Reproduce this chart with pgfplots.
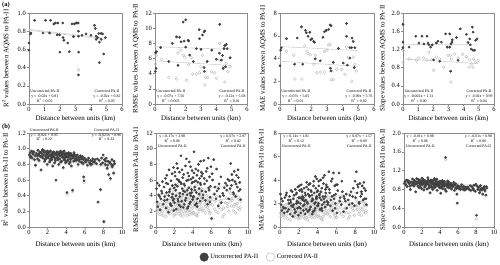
\documentclass[border=0pt]{standalone}
\usepackage{fontspec}
\setmainfont{Liberation Serif}
\usepackage{pgfplots}
\pgfplotsset{compat=1.18}
\usepackage{pgfplotstable}

\definecolor{darkpt}{HTML}{404040}
\definecolor{lightpt}{HTML}{BDBDBD}
\definecolor{trend}{HTML}{CFCFCF}
\definecolor{axgray}{HTML}{8C8C8C}

% ---------- Row (a) data ----------
\pgfplotstableread{
x y
0.00 0.67
0.00 0.59
0.10 0.77
0.12 0.78
0.36 0.92
0.90 0.78
1.07 0.92
1.33 0.78
1.39 0.92
1.60 0.88
1.70 0.89
1.86 0.89
1.82 0.76
1.97 0.76
1.99 0.57
2.18 0.89
2.20 0.73
2.25 0.70
2.50 0.67
2.60 0.575
2.78 0.88
2.93 0.88
2.87 0.74
3.04 0.89
3.10 0.89
3.17 0.89
3.19 0.80
3.20 0.745
3.20 0.57
3.19 0.32
3.42 0.755
3.68 0.77
4.00 0.755
4.22 0.865
4.28 0.83
4.33 0.745
4.33 0.71
4.43 0.73
4.50 0.775
4.54 0.455
4.65 0.775
4.65 0.71
4.54 0.68
4.75 0.77
4.82 0.55
4.93 0.73
}\aOneU
\pgfplotstableread{
x y
3.19 0.375
}\aOneC

\pgfplotstableread{
x y
0.04 6.75
0.10 6.90
0.07 4.70
0.02 4.30
0.37 7.45
0.90 5.60
1.13 8.00
1.40 8.85
1.50 5.10
1.60 8.80
1.70 8.20
1.84 10.8
2.00 11.1
1.90 8.30
2.00 7.50
2.16 8.40
2.20 8.30
2.26 6.45
2.50 5.60
2.70 7.30
2.88 9.80
2.90 8.60
3.10 9.10
3.20 9.50
3.25 9.65
3.00 7.20
3.20 4.80
3.22 4.30
3.40 5.60
3.70 7.10
4.00 5.90
4.22 10.5
4.20 6.70
4.33 5.80
4.50 7.30
4.55 7.70
4.65 7.85
4.70 7.30
4.60 4.90
4.90 6.10
4.45 4.70
4.40 6.40
}\aTwoU
\pgfplotstableread{
x y
0.07 6.40
0.43 5.90
0.90 3.50
1.40 3.30
1.50 6.70
1.70 7.10
1.84 6.45
1.95 6.10
2.20 5.20
2.35 6.10
2.46 3.95
2.70 3.95
2.90 4.10
3.00 4.90
3.10 6.45
3.25 2.50
3.30 3.50
3.45 3.50
3.70 4.25
3.90 4.10
4.22 8.00
4.20 5.80
4.45 4.90
4.55 2.90
4.65 5.35
4.75 4.25
4.90 4.90
4.00 3.40
2.05 3.15
0.02 5.30
}\aTwoC

\pgfplotstableread{
x y
0.04 4.73
0.08 4.95
0.00 3.36
0.42 5.74
0.93 3.50
1.10 5.80
1.37 6.78
1.45 3.50
1.62 6.47
1.68 6.26
1.79 5.95
1.90 6.30
1.96 5.65
2.04 5.74
2.15 5.50
2.20 5.43
2.25 3.97
2.57 3.80
2.74 5.86
2.84 6.35
2.95 6.47
3.10 6.56
3.20 6.96
3.26 6.87
3.22 3.15
3.26 2.90
3.40 3.66
3.73 4.88
4.04 3.60
4.25 7.08
4.25 5.95
4.30 3.42
4.46 4.95
4.57 4.95
4.60 5.80
4.67 5.50
4.78 4.95
4.74 3.20
4.46 4.03
}\aThreeU
\pgfplotstableread{
x y
0.00 4.10
0.40 4.64
0.88 4.27
0.95 2.20
1.40 2.20
1.58 5.10
1.72 4.64
1.79 4.43
1.94 4.33
2.15 3.50
2.25 4.27
2.36 2.75
2.57 2.80
2.84 2.80
2.84 4.60
3.00 4.73
3.10 5.20
3.20 5.20
3.26 2.14
3.40 2.14
3.62 3.05
3.94 3.05
4.15 2.60
4.25 5.00
4.36 4.12
4.57 2.00
4.67 4.12
4.78 3.50
4.88 2.90
}\aThreeC

\pgfplotstableread{
x y
0.00 1.75
0.00 1.36
0.00 1.24
0.40 1.25
0.84 1.49
1.05 1.34
1.25 1.49
1.38 1.32
1.58 1.49
1.65 1.34
1.71 1.30
1.82 1.25
1.93 1.30
2.02 0.97
2.20 1.34
2.30 1.38
2.42 0.94
2.53 1.36
2.81 1.54
2.92 1.25
3.08 1.25
3.08 1.54
3.16 1.32
3.23 1.36
3.25 1.41
3.14 0.72
3.52 1.46
3.63 0.96
3.78 1.65
4.18 1.53
4.29 1.35
4.40 1.43
4.44 1.30
4.50 1.21
4.57 1.69
4.62 1.58
4.62 1.18
4.73 1.18
4.79 1.40
4.88 1.43
}\aFourU
\pgfplotstableread{
x y
0.00 1.18
0.00 0.92
0.40 0.99
0.88 0.96
1.05 1.01
1.36 1.01
1.58 0.97
1.71 1.14
1.87 0.97
2.02 0.74
2.20 1.03
2.42 0.99
2.68 0.81
2.97 1.07
3.12 1.07
3.19 0.99
3.16 0.48
3.40 1.10
3.63 1.01
3.92 1.09
4.18 1.04
4.35 0.81
4.50 0.88
4.62 0.81
4.66 0.99
4.79 0.92
4.95 0.96
4.40 0.97
}\aFourC

% ---------- Row (b) data ----------
\pgfplotstableread{
x r2u r2c rmu rmc mau mac slu slc
0.05 0.92 0.91 4.9 2.1 2.8 1.2 0.93 0.92
0.12 0.95 0.94 3.2 1.8 1.9 0.9 0.97 0.96
0.20 0.90 0.90 2.6 2.4 1.4 1.3 0.90 0.89
0.28 0.97 0.96 4.1 3.0 2.2 1.7 1.00 0.99
0.35 0.88 0.87 5.3 2.2 1.7 1.1 0.86 0.86
0.45 0.93 0.92 2.2 1.6 1.2 0.8 0.95 0.95
0.52 0.96 0.96 3.6 2.8 2.5 1.6 0.98 0.97
0.60 0.86 0.85 4.6 3.4 1.6 1.9 0.92 0.91
0.70 0.79 0.78 5.8 2.0 2.9 1.0 0.80 0.79
0.78 0.94 0.93 2.9 1.5 1.3 0.7 0.96 0.95
0.88 0.91 0.90 5.1 3.7 2.3 2.0 0.89 0.89
0.95 0.98 0.97 3.9 2.5 2.0 1.4 1.02 1.01
1.02 0.93 0.92 6.2 4.1 2.6 2.2 0.94 0.93
1.08 0.85 0.84 2.4 1.3 1.1 0.6 0.88 0.87
1.15 0.96 0.95 4.4 2.7 2.1 1.5 0.99 0.98
1.22 0.90 0.89 3.5 2.0 1.8 1.0 0.91 0.90
1.30 0.73 0.72 5.5 3.2 3.0 1.8 0.75 0.74
1.35 0.94 0.93 1.9 2.4 0.9 1.2 0.96 0.95
1.42 0.97 0.97 7.3 4.4 2.4 2.6 1.03 1.02
1.50 0.88 0.88 4.8 1.7 2.7 0.9 0.93 0.92
1.55 0.92 0.91 3.0 3.6 1.5 1.9 0.87 0.86
1.62 0.95 0.94 5.9 2.9 3.2 1.6 0.97 0.96
1.68 0.84 0.83 2.7 1.9 1.3 0.8 0.84 0.83
1.75 0.91 0.90 6.8 3.9 2.0 2.1 1.00 0.99
1.80 0.96 0.96 4.2 2.3 2.2 1.3 0.95 0.95
1.86 0.89 0.88 3.4 4.6 1.6 2.4 0.90 0.89
1.90 0.93 0.92 7.6 3.1 3.4 1.7 0.98 0.97
1.95 0.80 0.79 2.1 1.4 1.0 0.7 0.82 0.81
1.98 0.97 0.96 5.0 2.6 2.5 1.4 1.04 1.03
1.72 0.86 0.86 3.8 5.0 2.8 1.1 0.92 0.91
1.45 0.99 0.98 4.5 2.1 1.9 1.0 0.95 0.94
1.12 0.91 0.90 5.6 3.3 2.3 2.0 0.88 0.87
2.02 0.94 0.93 3.1 1.6 1.7 0.8 0.97 0.96
2.08 0.88 0.87 6.5 4.0 3.1 2.3 0.91 0.90
2.15 0.95 0.95 4.7 2.9 2.0 1.5 1.01 1.00
2.20 0.83 0.82 2.3 2.2 1.2 1.1 0.79 0.78
2.26 0.92 0.91 8.1 3.5 3.6 1.9 0.94 0.93
2.32 0.97 0.96 5.2 5.4 2.4 2.7 0.99 0.98
2.38 0.90 0.89 3.6 2.0 2.6 1.0 0.87 0.87
2.45 0.86 0.85 6.0 3.1 1.8 1.6 0.92 0.91
2.50 0.94 0.93 2.8 1.7 1.4 0.9 0.96 0.95
2.55 0.78 0.77 7.0 4.3 3.3 2.4 0.81 0.80
2.60 0.91 0.91 4.3 2.4 2.2 1.2 0.93 0.92
2.66 0.96 0.95 5.7 2.7 2.9 1.5 1.05 1.04
2.72 0.89 0.88 9.1 3.8 2.7 2.0 0.90 0.89
2.78 0.93 0.93 3.3 1.9 1.5 0.8 0.97 0.96
2.84 0.85 0.84 4.9 3.2 3.8 1.7 0.85 0.84
2.90 0.60 0.59 6.3 2.3 2.1 1.3 0.73 0.72
2.95 0.95 0.94 2.5 1.4 1.3 0.6 0.99 0.98
2.12 0.91 0.90 5.4 4.7 2.5 2.5 0.94 0.93
2.35 0.87 0.87 7.5 2.8 3.0 1.4 0.89 0.88
2.58 0.95 0.95 3.9 2.2 1.9 1.2 0.96 0.96
2.75 0.82 0.81 5.5 3.6 2.3 1.9 0.83 0.82
2.98 0.92 0.91 4.6 2.6 2.8 1.6 0.95 0.94
3.02 0.96 0.95 6.7 3.4 3.2 1.8 1.00 0.99
3.08 0.89 0.88 2.9 1.8 1.4 0.9 0.91 0.90
3.15 0.93 0.92 4.5 4.9 2.6 2.6 0.97 0.96
3.20 0.80 0.79 7.8 2.5 3.7 1.3 0.80 0.79
3.26 0.94 0.94 3.7 2.1 1.7 1.1 0.94 0.93
3.32 0.87 0.86 5.9 3.3 3.0 1.8 0.88 0.87
3.38 0.97 0.96 4.1 1.5 2.2 0.8 1.03 1.02
3.45 0.91 0.90 6.9 4.2 2.4 2.2 0.92 0.91
3.50 0.84 0.83 2.6 2.8 1.3 1.5 0.86 0.85
3.56 0.95 0.94 5.0 2.2 3.5 1.2 0.98 0.97
3.62 0.90 0.89 8.3 3.7 2.9 2.0 0.90 0.89
3.68 0.76 0.75 4.3 1.9 2.0 1.0 0.78 0.77
3.74 0.93 0.92 3.2 5.1 1.6 2.8 0.95 0.94
3.80 0.88 0.87 6.1 2.6 3.3 1.4 0.93 0.92
3.86 0.94 0.93 4.8 3.0 2.5 1.6 0.89 0.88
3.92 0.82 0.81 7.2 4.5 4.1 2.4 0.84 0.83
3.97 0.92 0.91 3.5 1.7 1.8 0.9 0.97 0.96
3.12 0.86 0.85 5.3 3.9 2.7 2.1 0.83 0.82
3.42 0.95 0.94 2.4 2.3 1.1 1.2 1.01 1.00
3.58 0.89 0.89 6.5 2.9 3.9 1.5 0.91 0.90
3.78 0.97 0.96 4.0 2.0 2.1 1.1 0.96 0.95
3.90 0.85 0.84 5.6 3.4 2.6 1.8 0.87 0.86
4.02 0.90 0.89 6.3 3.6 3.1 1.9 0.92 0.91
4.08 0.44 0.42 3.9 1.9 2.0 1.0 0.72 0.71
4.14 0.93 0.92 9.6 4.8 3.5 2.6 0.95 0.94
4.20 0.86 0.85 5.1 2.7 2.8 1.4 0.88 0.87
4.26 0.95 0.94 2.8 1.6 1.5 0.8 0.99 0.98
4.32 0.81 0.80 7.4 3.3 4.0 1.7 0.82 0.81
4.38 0.91 0.90 4.4 5.3 2.3 2.9 0.93 0.92
4.45 0.88 0.87 6.6 2.4 3.3 1.3 0.89 0.88
4.50 0.94 0.93 3.6 3.1 1.9 1.6 0.97 0.96
4.56 0.78 0.77 5.7 1.8 2.6 0.9 0.80 0.79
4.62 0.92 0.91 8.0 4.1 3.7 2.2 1.48 1.43
4.68 0.47 0.45 4.9 2.9 2.4 1.5 0.76 0.75
4.74 0.90 0.89 6.2 3.8 4.4 2.0 0.91 0.90
4.80 0.84 0.83 3.3 2.2 1.7 1.2 0.85 0.84
4.86 0.93 0.92 5.4 3.5 2.9 1.8 0.94 0.93
4.92 0.87 0.86 7.0 2.6 3.6 1.4 0.88 0.87
4.98 0.91 0.90 4.6 4.4 2.2 2.4 0.96 0.95
4.17 0.89 0.88 5.8 3.0 2.7 1.6 0.86 0.85
4.42 0.83 0.82 3.0 1.5 1.6 0.7 0.90 0.89
4.84 0.95 0.94 8.4 3.9 3.2 2.1 0.98 0.97
5.05 0.88 0.87 6.8 3.4 3.4 1.9 0.89 0.88
5.12 0.85 0.84 4.1 2.3 2.1 1.2 0.84 0.83
5.20 0.92 0.91 8.5 4.6 4.7 2.5 0.93 0.92
5.28 0.80 0.79 5.5 2.9 2.9 1.5 0.81 0.80
5.36 0.89 0.88 3.4 1.8 1.8 0.9 0.90 0.89
5.45 0.86 0.85 7.1 3.2 3.9 1.7 0.87 0.86
5.52 0.91 0.90 5.9 4.0 2.6 2.2 0.95 0.94
5.60 0.83 0.82 2.9 2.5 1.4 1.3 0.78 0.77
5.68 0.87 0.86 8.8 3.6 4.6 2.0 0.89 0.88
5.75 0.90 0.89 4.7 2.1 2.4 1.1 0.92 0.91
5.82 0.81 0.80 6.4 4.7 3.5 2.6 0.82 0.81
5.88 0.64 0.63 3.8 1.9 2.0 1.0 0.70 0.69
5.92 0.59 0.57 5.2 3.0 2.8 1.6 0.51 0.50
5.97 0.88 0.87 7.7 3.5 3.6 1.9 0.88 0.87
6.05 0.84 0.83 1.1 1.0 1.2 0.8 0.84 0.83
6.15 0.86 0.85 6.0 2.8 3.1 1.5 0.86 0.85
6.28 0.79 0.78 8.6 4.2 4.6 2.3 0.80 0.79
6.40 0.88 0.87 5.1 3.3 2.5 1.7 0.90 0.89
6.52 0.82 0.81 3.6 2.0 1.9 1.1 0.83 0.82
6.63 0.85 0.84 4.6 5.0 3.0 2.6 0.87 0.86
6.75 0.80 0.79 2.7 1.8 1.3 0.9 0.79 0.78
6.86 0.87 0.86 5.5 2.5 2.4 1.3 0.85 0.84
6.95 0.83 0.82 3.9 3.0 2.2 1.6 0.81 0.80
7.10 0.86 0.85 3.1 2.2 1.6 1.2 0.84 0.83
7.25 0.81 0.80 4.3 1.3 2.3 0.7 0.80 0.79
7.42 0.32 0.31 5.0 1.6 2.7 0.9 0.78 0.77
7.55 0.85 0.84 5.6 3.1 3.0 1.7 0.86 0.85
7.68 0.48 0.47 4.7 3.7 2.0 2.0 0.82 0.81
7.80 0.88 0.87 6.1 2.6 3.3 1.4 0.89 0.88
7.92 0.82 0.81 3.6 2.0 1.8 1.0 0.76 0.75
7.98 0.92 0.90 5.9 4.6 3.9 2.5 0.91 0.90
8.05 0.07 0.06 4.9 3.2 2.5 1.8 0.25 0.17
8.12 0.86 0.85 8.1 4.3 4.7 2.3 0.87 0.86
8.20 0.80 0.79 5.3 2.7 2.9 1.5 0.80 0.79
8.30 0.88 0.87 6.0 3.4 3.4 1.8 0.85 0.84
8.40 0.75 0.74 4.4 2.1 2.1 1.1 0.73 0.72
8.50 0.84 0.83 7.1 3.9 3.7 2.1 0.88 0.87
8.58 0.67 0.66 5.8 2.9 2.6 1.6 0.82 0.81
8.66 0.82 0.81 3.9 1.8 3.0 1.0 0.79 0.78
8.75 0.62 0.61 6.6 4.0 3.5 2.2 0.70 0.69
8.84 0.80 0.79 5.1 3.0 2.3 1.7 0.84 0.83
8.92 0.86 0.85 7.3 2.4 3.8 1.3 0.86 0.85
9.00 0.79 0.78 4.6 3.5 2.4 1.9 0.77 0.76
9.10 0.69 0.68 5.7 2.2 3.1 1.2 0.68 0.67
9.20 0.81 0.80 3.5 3.3 1.9 1.8 0.83 0.82
0.15 0.89 0.88 5.6 2.7 2.4 1.5 0.91 0.90
0.40 0.94 0.93 3.9 1.9 1.6 1.0 0.99 0.98
0.65 0.91 0.90 4.3 2.6 2.7 1.3 0.87 0.86
0.92 0.87 0.86 3.4 3.1 1.5 1.7 0.94 0.93
1.18 0.95 0.94 6.6 2.5 3.1 1.4 0.97 0.96
1.38 0.90 0.89 4.0 1.8 1.7 0.9 0.92 0.91
1.58 0.98 0.97 2.8 2.9 1.2 1.6 1.01 1.00
1.78 0.87 0.86 5.3 3.4 2.9 1.9 0.86 0.85
1.92 0.94 0.93 3.6 2.2 2.1 1.1 0.93 0.92
2.05 0.90 0.89 7.0 3.7 3.5 2.1 0.90 0.89
2.18 0.96 0.95 4.0 1.7 1.6 0.8 0.98 0.97
2.28 0.85 0.84 6.1 4.1 3.2 2.3 0.85 0.84
2.42 0.93 0.92 3.3 2.5 2.3 1.4 0.95 0.94
2.52 0.89 0.88 5.8 3.0 2.5 1.7 0.91 0.90
2.68 0.94 0.93 2.6 1.5 1.1 0.7 1.00 0.99
2.82 0.87 0.86 7.3 4.0 3.4 2.2 0.88 0.87
2.92 0.92 0.91 4.2 2.8 2.0 1.5 0.94 0.93
3.05 0.88 0.87 5.5 2.3 3.6 1.2 0.86 0.85
3.18 0.95 0.94 3.4 3.5 1.5 1.9 0.99 0.98
3.30 0.91 0.90 8.7 4.3 3.1 2.4 0.92 0.91
3.40 0.83 0.82 4.7 2.0 2.7 1.1 0.84 0.83
3.52 0.93 0.92 6.0 3.6 2.3 1.9 0.96 0.95
3.65 0.96 0.95 3.0 1.6 1.4 0.8 1.02 1.01
3.76 0.86 0.85 7.7 3.2 4.3 1.8 0.88 0.87
3.88 0.91 0.90 4.4 4.0 2.4 2.2 0.91 0.90
3.95 0.89 0.88 5.7 2.4 3.0 1.3 0.90 0.89
4.05 0.94 0.93 3.8 1.8 1.8 0.9 0.97 0.96
4.12 0.84 0.83 6.9 3.9 3.9 2.1 0.83 0.82
4.24 0.90 0.89 4.7 2.9 2.5 1.5 0.91 0.90
4.35 0.93 0.92 5.9 3.6 3.0 1.9 0.95 0.94
4.48 0.86 0.85 2.6 1.4 1.4 0.6 0.87 0.86
4.58 0.91 0.90 7.2 4.5 4.2 2.4 0.92 0.91
4.70 0.88 0.87 4.2 2.2 2.1 1.1 0.89 0.88
4.82 0.92 0.91 5.6 3.1 2.6 1.7 0.93 0.92
4.95 0.85 0.84 6.5 4.9 3.4 2.7 0.84 0.83
5.08 0.90 0.89 3.7 2.1 1.9 1.1 0.91 0.90
5.24 0.87 0.86 6.2 3.8 3.2 2.0 0.88 0.87
5.40 0.84 0.83 4.5 2.6 2.3 1.4 0.86 0.85
5.56 0.89 0.88 7.5 3.4 4.1 1.8 0.90 0.89
5.72 0.82 0.81 5.0 2.8 2.7 1.5 0.83 0.82
5.85 0.86 0.85 3.2 1.7 1.6 0.8 0.85 0.84
6.10 0.83 0.82 6.8 3.7 3.6 2.0 0.82 0.81
6.35 0.85 0.84 4.2 2.3 2.2 1.2 0.86 0.85
6.58 0.80 0.79 7.4 3.9 3.9 2.1 0.80 0.79
6.80 0.84 0.83 4.9 2.7 2.6 1.5 0.83 0.82
7.05 0.83 0.82 6.4 3.4 2.8 1.7 0.85 0.84
7.35 0.87 0.86 4.0 2.4 1.9 1.2 0.88 0.87
7.72 0.80 0.79 5.3 3.0 2.6 1.6 0.79 0.78
8.25 0.84 0.83 6.7 3.6 3.6 1.9 0.83 0.82
8.45 0.79 0.78 4.2 2.6 2.0 1.3 0.78 0.77
8.70 0.83 0.82 5.5 2.8 2.8 1.5 0.81 0.80
8.95 0.77 0.76 6.3 3.8 3.3 2.0 0.80 0.79
9.15 0.84 0.83 4.8 2.5 2.4 1.4 0.86 0.85
}\bTab

\pgfplotsset{
  base/.style={
    scale only axis, clip=false,
    axis line style={axgray, line width=0.5pt},
    tick style={axgray, line width=0.4pt},
    tick align=outside, major tick length=2bp,
    xtick pos=left, ytick pos=left,
    ticklabel style={font=\fontsize{6.5}{7.5}\selectfont, inner sep=1pt},
    label style={font=\fontsize{7}{8.5}\selectfont},
    /pgf/number format/assume math mode=true,
    xmin=0, ymin=0,
  },
  rowa/.style={base, height=91bp, xmax=6, xtick={0,1,...,6},
    xlabel={Distance between units (km)},
    xlabel style={at={(axis description cs:0.5,-0.165)}, anchor=center}},
  rowb/.style={base, height=94bp, xmax=10, xtick={0,2,...,10},
    xlabel={Distance between units (km)},
    xlabel style={at={(axis description cs:0.5,-0.19)}, anchor=center}},
  yl/.style={ylabel style={at={(axis description cs:#1,0.5)}, anchor=center}},
  dec/.style={yticklabel style={/pgf/number format/.cd, fixed, fixed zerofill, precision=1}},
  uc/.style={only marks, mark=*, mark size=1.15bp, draw=darkpt, fill=darkpt, forget plot},
  cc/.style={only marks, mark=o, mark size=1.45bp, mark options={draw=lightpt, line width=0.4pt}, forget plot},
  tl/.style={no marks, draw=trend, line width=0.6pt, forget plot},
}
\tikzset{ann/.style={font=\fontsize{3.9}{4.7}\selectfont, align=center, inner sep=0.8pt}}

\begin{document}
\begin{tikzpicture}
\path[use as bounding box] (0,0) rectangle (500bp,265bp);
\node[font=\bfseries\fontsize{6.5}{8}\selectfont, anchor=north west, inner sep=0pt] at (2bp,263bp) {(a)};
\node[font=\bfseries\fontsize{6.5}{8}\selectfont, anchor=north west, inner sep=0pt] at (2bp,141bp) {(b)};

% ===== Row (a) =====
\begin{axis}[rowa, at={(29bp,161bp)}, anchor=south west, width=93bp,
  ymax=1, ytick={0,0.2,...,1.0}, dec, yl=-0.25,
  ylabel={R\textsuperscript{2} values between AQMS to PA-II}]
\addplot[tl] coordinates {(0,0.81) (4.95,0.711)};
\addplot[tl] coordinates {(0,0.82) (4.95,0.721)};
\addplot[cc] table[x=x,y=y] {\aOneC};
\addplot[uc] table[x=x,y=y] {\aOneU};
\node[ann, anchor=south west] at (rel axis cs:0.005,0.01) {Uncorrected PA-II\\y = -0.02x + 0.81\\R\textsuperscript{2} = 0.05};
\node[ann, anchor=south east] at (rel axis cs:0.995,0.01) {Corrected PA-II\\y = -0.02x + 0.82\\R\textsuperscript{2} = 0.05};
\end{axis}

\begin{axis}[rowa, at={(155bp,161bp)}, anchor=south west, width=92bp,
  ymax=12, ytick={0,2,...,12}, yl=-0.21,
  ylabel={RMSE values between AQMS to PA-II}]
\addplot[tl] coordinates {(0,7.56) (4.95,7.21)};
\addplot[tl] coordinates {(0,5.68) (4.95,5.09)};
\addplot[cc] table[x=x,y=y] {\aTwoC};
\addplot[uc] table[x=x,y=y] {\aTwoU};
\node[ann, anchor=south west] at (rel axis cs:0.005,0.01) {Uncorrected PA-II\\y = -0.07x + 7.56\\R\textsuperscript{2} = 0.003};
\node[ann, anchor=south east] at (rel axis cs:0.995,0.01) {Corrected PA-II\\y = -0.12x + 5.68\\R\textsuperscript{2} = 0.01};
\end{axis}

\begin{axis}[rowa, at={(280bp,161bp)}, anchor=south west, width=94bp,
  ymax=8, ytick={0,2,...,8}, yl=-0.18,
  ylabel={MAE values between AQMS to PA-II}]
\addplot[tl] coordinates {(0,5.05) (4.95,4.70)};
\addplot[tl] coordinates {(0,3.76) (4.95,3.31)};
\addplot[cc] table[x=x,y=y] {\aThreeC};
\addplot[uc] table[x=x,y=y] {\aThreeU};
\node[ann, anchor=south west] at (rel axis cs:0.005,0.01) {Uncorrected PA-II\\y = -0.07x + 5.05\\R\textsuperscript{2} = 0.01};
\node[ann, anchor=south east] at (rel axis cs:0.995,0.01) {Corrected PA-II\\y = -0.09x + 3.76\\R\textsuperscript{2} = 0.02};
\end{axis}

\begin{axis}[rowa, at={(403bp,161bp)}, anchor=south west, width=91bp,
  ymax=2, ytick={0,0.4,...,2.0}, dec, yl=-0.22,
  ylabel={Slope values between AQMS to PA-II}]
\addplot[tl] coordinates {(0,1.31) (4.95,1.30)};
\addplot[tl] coordinates {(0,0.99) (4.95,0.89)};
\addplot[cc] table[x=x,y=y] {\aFourC};
\addplot[uc] table[x=x,y=y] {\aFourU};
\node[ann, anchor=south west] at (rel axis cs:0.005,0.01) {Uncorrected PA-II\\y = -0.002x + 1.31\\R\textsuperscript{2} = 0.00};
\node[ann, anchor=south east] at (rel axis cs:0.995,0.01) {Corrected PA-II\\y = -0.02x + 0.99\\R\textsuperscript{2} = 0.04};
\end{axis}

% ===== Row (b) =====
\begin{axis}[rowb, at={(29bp,38bp)}, anchor=south west, width=93bp,
  ymax=1.2, ytick={0,0.2,...,1.2}, dec, yl=-0.26,
  ylabel={R\textsuperscript{2} values between PA-II to PA-II}]
\addplot[tl] coordinates {(0,0.95) (9.2,0.766)};
\addplot[tl] coordinates {(0,0.96) (9.2,0.748)};
\addplot[cc] table[x=x,y=r2c] {\bTab};
\addplot[uc] table[x=x,y=r2u] {\bTab};
\node[ann, anchor=north west] at (rel axis cs:0.0,1.055) {Uncorrected PA-II\\y = -0.02x + 0.95\\R\textsuperscript{2} = 0.22};
\node[ann, anchor=north east] at (rel axis cs:1.0,1.055) {Corrected PA-II\\y = -0.023x + 0.96\\R\textsuperscript{2} = 0.22};
\end{axis}

\begin{axis}[rowb, at={(156bp,38bp)}, anchor=south west, width=92bp,
  ymax=12, ytick={0,2,...,12}, yl=-0.22,
  ylabel={RMSE values between PA-II to PA-II},
  legend style={at={(1.13,-0.32)}, anchor=center, draw=none, fill=none,
    legend columns=2, font=\fontsize{6.5}{7.5}\selectfont,
    /tikz/every even column/.append style={column sep=6bp}},
  legend cell align=left]
\addlegendimage{only marks, mark=*, mark size=4.3bp, draw=darkpt, fill=darkpt}
\addlegendentry{Uncorrected PA-II}
\addlegendimage{only marks, mark=o, mark size=4.3bp, mark options={draw=lightpt, line width=0.5pt}}
\addlegendentry{Corrected PA-II}
\addplot[tl] coordinates {(0,3.98) (9.2,5.54)};
\addplot[tl] coordinates {(0,2.97) (9.2,3.61)};
\addplot[cc] table[x=x,y=rmc] {\bTab};
\addplot[uc] table[x=x,y=rmu] {\bTab};
\node[ann, anchor=north west] at (rel axis cs:0.01,0.985) {y = 0.17x + 3.98\\R\textsuperscript{2} = 0.06\\Uncorrected PA-II};
\node[ann, anchor=north east] at (rel axis cs:0.99,0.985) {y = 0.07x + 2.97\\R\textsuperscript{2} = 0.02\\Corrected PA-II};
\end{axis}

\begin{axis}[rowb, at={(280bp,38bp)}, anchor=south west, width=94bp,
  ymax=8, ytick={0,2,...,8}, yl=-0.2,
  ylabel={MAE values between PA-II to PA-II}]
\addplot[tl] coordinates {(0,1.81) (9.2,3.10)};
\addplot[tl] coordinates {(0,1.57) (9.2,2.21)};
\addplot[cc] table[x=x,y=mac] {\bTab};
\addplot[uc] table[x=x,y=mau] {\bTab};
\node[ann, anchor=north west] at (rel axis cs:0.01,0.985) {y = 0.14x + 1.81\\R\textsuperscript{2} = 0.12\\Uncorrected PA-II};
\node[ann, anchor=north east] at (rel axis cs:0.99,0.985) {y = 0.07x + 1.57\\R\textsuperscript{2} = 0.09\\Corrected PA-II};
\end{axis}

\begin{axis}[rowb, at={(404bp,38bp)}, anchor=south west, width=90bp,
  ymax=2, ytick={0,0.4,...,2.0}, dec, yl=-0.23,
  ylabel={Slope values between PA-II to PA-II}]
\addplot[tl] coordinates {(0,0.98) (9.2,0.888)};
\addplot[cc] table[x=x,y=slc] {\bTab};
\addplot[uc] table[x=x,y=slu] {\bTab};
\node[ann, anchor=north west] at (rel axis cs:0.01,0.985) {y = -0.01x + 0.98\\R\textsuperscript{2} = 0.06\\Uncorrected PA-II};
\node[ann, anchor=north east] at (rel axis cs:0.99,0.985) {y = -0.01x + 0.98\\R\textsuperscript{2} = 0.06\\Corrected PA-II};
\end{axis}
\end{tikzpicture}
\end{document}
